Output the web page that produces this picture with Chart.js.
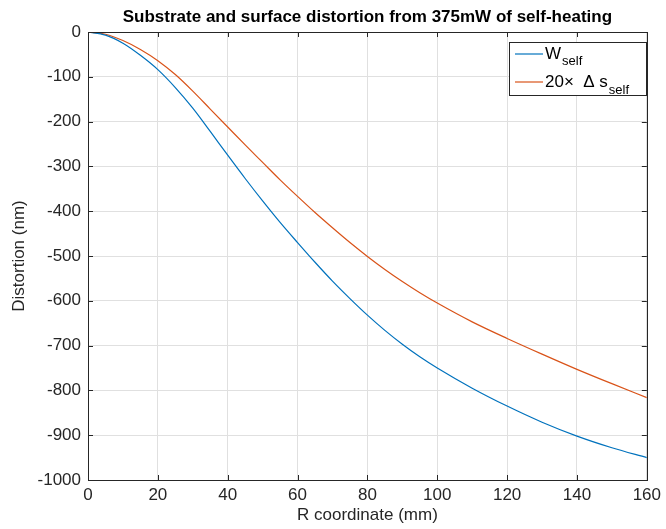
<!DOCTYPE html>
<html>
  <head>
    <title>Substrate and surface distortion</title>
    <script src="https://cdn.jsdelivr.net/npm/chart.js@4.4.1/dist/chart.umd.min.js"></script>
    <style>
      body { margin: 0; background: #fff; }
    </style>
  </head>
  <body>
    <canvas id="myChart" width="666" height="529"></canvas>
    <script>
      // values
      var rCoord = [0, 5, 10, 15, 20, 25, 30, 35, 40, 45, 50, 55, 60, 65, 70, 75, 80, 85, 90, 95, 100, 110, 120, 130, 140, 150, 160];
      var wSelf = [0, -7, -25, -52, -84, -124, -170, -222, -275, -327, -377, -425, -470, -514, -556, -595, -632, -666, -697, -725, -750, -795, -835, -871, -902, -928, -950];
      var dsSelf20 = [0, -5, -19, -39, -64, -95, -132, -172, -212, -252, -291, -330, -367, -403, -437, -470, -501, -530, -557, -582, -605, -647, -684, -719, -753, -785, -816];
      var xTicks = [0, 20, 40, 60, 80, 100, 120, 140, 160];
      var yTicks = [0, -100, -200, -300, -400, -500, -600, -700, -800, -900, -1000];

      var FONT = '"Liberation Sans", Arial, Helvetica, sans-serif';
      var AXIS = "#262626";
      var BLUE = "#0072BD";
      var ORANGE = "#D95319";

      function pts(ys) {
        return rCoord.map(function (x, i) { return { x: x, y: ys[i] }; });
      }

      // frame, inward ticks, title, legend (MATLAB look)
      var decor = {
        id: "decor",
        afterDraw: function (chart) {
          var c = chart.ctx;
          var a = chart.chartArea;
          var xs = chart.scales.x, ys = chart.scales.y;
          c.save();
          c.strokeStyle = AXIS;
          c.lineWidth = 1;
          c.strokeRect(Math.round(a.left) + 0.5, Math.round(a.top) + 0.5,
            Math.round(a.right - a.left), Math.round(a.bottom - a.top));
          var tl = 5;
          c.beginPath();
          xTicks.forEach(function (v) {
            var px = Math.round(xs.getPixelForValue(v)) + 0.5;
            c.moveTo(px, a.bottom); c.lineTo(px, a.bottom - tl);
            c.moveTo(px, a.top); c.lineTo(px, a.top + tl);
          });
          yTicks.forEach(function (v) {
            var py = Math.round(ys.getPixelForValue(v)) + 0.5;
            c.moveTo(a.left, py); c.lineTo(a.left + tl, py);
            c.moveTo(a.right, py); c.lineTo(a.right - tl, py);
          });
          c.stroke();

          // title
          c.fillStyle = "#000";
          c.font = "bold 17px " + FONT;
          c.textAlign = "center";
          c.textBaseline = "alphabetic";
          c.fillText("Substrate and surface distortion from 375mW of self-heating", (a.left + a.right) / 2, 22);

          // legend box
          var lx = 509, ly = 42, lw = 137, lh = 53;
          c.fillStyle = "#fff";
          c.fillRect(lx, ly, lw, lh);
          c.strokeStyle = AXIS;
          c.strokeRect(lx + 0.5, ly + 0.5, lw, lh);
          c.lineWidth = 1.2;
          c.strokeStyle = BLUE;
          c.beginPath(); c.moveTo(515, 54); c.lineTo(543, 54); c.stroke();
          c.strokeStyle = ORANGE;
          c.beginPath(); c.moveTo(515, 82); c.lineTo(543, 82); c.stroke();
          c.fillStyle = "#000";
          c.textAlign = "left";
          c.font = "17px " + FONT;
          c.fillText("W", 545, 59);
          var wW = c.measureText("W").width;
          c.font = "13px " + FONT;
          c.fillText("self", 545 + wW + 1, 65);
          c.font = "17px " + FONT;
          c.fillText("20\u00d7  \u0394 s", 545, 87);
          var w2 = c.measureText("20\u00d7  \u0394 s").width;
          c.font = "13px " + FONT;
          c.fillText("self", 545 + w2 + 1, 94);
          c.restore();
        },
      };

      var ctx = document.getElementById("myChart").getContext("2d");
      var chart = new Chart(ctx, {
        type: "line",
        data: {
          datasets: [
            {
              label: "W self",
              data: pts(wSelf),
              borderColor: BLUE,
              backgroundColor: BLUE,
              borderWidth: 1.2,
              pointRadius: 0,
              cubicInterpolationMode: "monotone",
            },
            {
              label: "20x Delta s self",
              data: pts(dsSelf20),
              borderColor: ORANGE,
              backgroundColor: ORANGE,
              borderWidth: 1.2,
              pointRadius: 0,
              cubicInterpolationMode: "monotone",
            },
          ],
        },
        options: {
          responsive: false,
          animation: false,
          layout: { padding: { top: 32, right: 18, left: 0, bottom: 0 } },
          plugins: { legend: { display: false }, tooltip: { enabled: false } },
          scales: {
            x: {
              type: "linear",
              min: 0,
              max: 160,
              afterBuildTicks: function (s) { s.ticks = xTicks.map(function (v) { return { value: v }; }); },
              afterFit: function (s) { s.height = 49; },
              ticks: { font: { family: FONT, size: 17 }, color: AXIS, padding: 5, maxRotation: 0,
                callback: function (v) { return String(v); } },
              grid: { color: "#e0e0e0", drawTicks: false },
              border: { display: false },
              title: { display: true, text: "R coordinate (mm)", font: { family: FONT, size: 17 }, color: AXIS, padding: { top: 0, bottom: 3 } },
            },
            y: {
              type: "linear",
              min: -1000,
              max: 0,
              afterBuildTicks: function (s) { s.ticks = yTicks.map(function (v) { return { value: v }; }); },
              afterFit: function (s) { s.width = 88; },
              ticks: { font: { family: FONT, size: 17 }, color: AXIS, padding: 7,
                callback: function (v) { return String(v); } },
              grid: { color: "#e0e0e0", drawTicks: false },
              border: { display: false },
              title: { display: true, text: "Distortion (nm)", font: { family: FONT, size: 17 }, color: AXIS, padding: { top: 9, bottom: 0 } },
            },
          },
        },
        plugins: [decor],
      });
    </script>
  </body>
</html>
